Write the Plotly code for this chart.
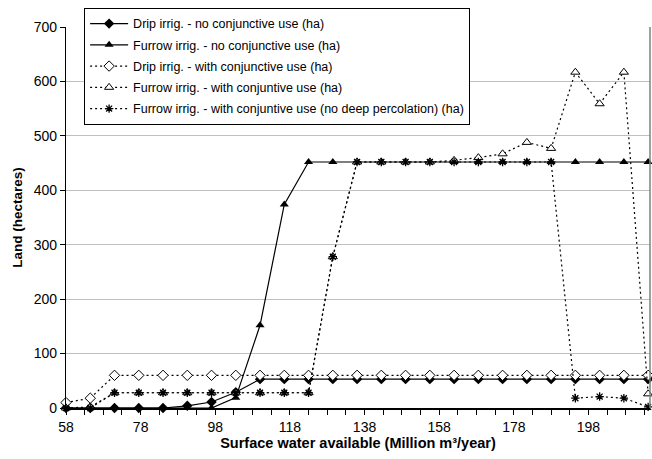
import plotly.graph_objects as go

# Surface water available (Million m3/year)
water = [58 + 6.5 * i for i in range(25)]

drip_no_conj = [0, 0, 0, 0, 0, 4, 11, 29, 53, 53, 53, 53, 53, 53, 53, 53, 53, 53, 53, 53, 53, 53, 53, 53, 53]
furrow_no_conj = [0, 0, 0, 0, 0, 0, 0, 19, 152, 374, 452, 452, 452, 452, 452, 452, 452, 452, 452, 452, 452, 452, 452, 452, 452]
drip_conj = [10, 18, 60, 60, 60, 60, 60, 60, 60, 60, 60, 60, 60, 60, 60, 60, 60, 60, 60, 60, 60, 60, 60, 60, 60]
furrow_conj = [0, 2, 28, 28, 28, 28, 28, 28, 28, 28, 28, 278, 452, 452, 452, 452, 455, 460, 467, 488, 477, 617, 559, 617, 26]
furrow_conj_nodp = [0, 0, 28, 28, 28, 28, 28, 28, 28, 28, 28, 278, 452, 452, 452, 452, 452, 452, 452, 452, 452, 18, 21, 18, 2]

names = [
    "Drip irrig. - no conjunctive use (ha)",
    "Furrow irrig. - no conjunctive use (ha)",
    "Drip irrig. - with conjunctive use (ha)",
    "Furrow irrig. - with conjuntive use (ha)",
    "Furrow irrig. - with conjuntive use (no deep percolation) (ha)",
]

x_ticks = [58, 78, 98, 118, 138, 158, 178, 198]
y_ticks = [0, 100, 200, 300, 400, 500, 600, 700]

FONT = "Liberation Sans, Arial, sans-serif"
DOT = "2px,3px"

series = [
    (drip_no_conj, dict(symbol="diamond", size=8, color="black"), "solid"),
    (furrow_no_conj, dict(symbol="triangle-up", size=8, color="black"), "solid"),
    (drip_conj, dict(symbol="diamond", size=8, color="white", line=dict(color="black", width=1)), DOT),
    (furrow_conj, dict(symbol="triangle-up", size=8, color="white", line=dict(color="black", width=1)), DOT),
    (furrow_conj_nodp, dict(symbol="asterisk-open", size=7, color="black", line=dict(color="black", width=1.3)), DOT),
]

fig = go.Figure()
for i, (vals, mk, dash) in enumerate(series):
    fig.add_trace(go.Scatter(
        x=water, y=vals, name=names[i], mode="lines+markers",
        line=dict(color="black", width=1.2, dash=dash),
        marker=mk, legendgroup=f"g{i}", cliponaxis=False,
    ))

fig.update_layout(
    width=652, height=459,
    margin=dict(l=66, r=2, t=27, b=51),
    paper_bgcolor="white", plot_bgcolor="white",
    font=dict(family=FONT, color="black"),
    showlegend=True,
    legend=dict(
        x=0.031, y=1.05, xanchor="left", yanchor="top",
        bgcolor="white", bordercolor="black", borderwidth=1,
        font=dict(family=FONT, size=12.5, color="black"),
        tracegroupgap=2, itemwidth=38,
    ),
    xaxis=dict(
        range=[58, 214.5], tickvals=x_ticks, ticktext=[str(v) for v in x_ticks],
        showgrid=False, zeroline=False,
        showline=True, linecolor="black", linewidth=1.5,
        ticks="outside", ticklen=5, tickcolor="black",
        tickfont=dict(size=14, family=FONT),
        minor=dict(dtick=5, tick0=58, ticks="outside", ticklen=5, tickcolor="black", showgrid=False),
        title=dict(text="<b>Surface water available (Million m³/year)</b>",
                   font=dict(size=14.5, family=FONT), standoff=4),
        automargin=False,
    ),
    yaxis=dict(
        range=[0, 700], tickvals=y_ticks, ticktext=[str(v) for v in y_ticks],
        showgrid=True, gridcolor="#c0c0c0", gridwidth=1,
        zeroline=False, showline=True, linecolor="black", linewidth=1.2,
        ticks="outside", ticklen=5, tickcolor="black",
        tickfont=dict(size=14, family=FONT),
        title=dict(text="<b>Land (hectares)</b>", font=dict(size=13.5, family=FONT), standoff=8),
        automargin=False,
    ),
    shapes=[dict(type="line", xref="paper", yref="paper", x0=1, x1=1, y0=0, y1=1,
                 line=dict(color="#808080", width=1.5))],
)

# Remove the default page margin so the 652x459 figure fills the window exactly.
fig.write_html(
    "out.html",
    config={"displayModeBar": False},
    post_script="document.body.style.margin='0';document.body.style.overflow='hidden';",
)
